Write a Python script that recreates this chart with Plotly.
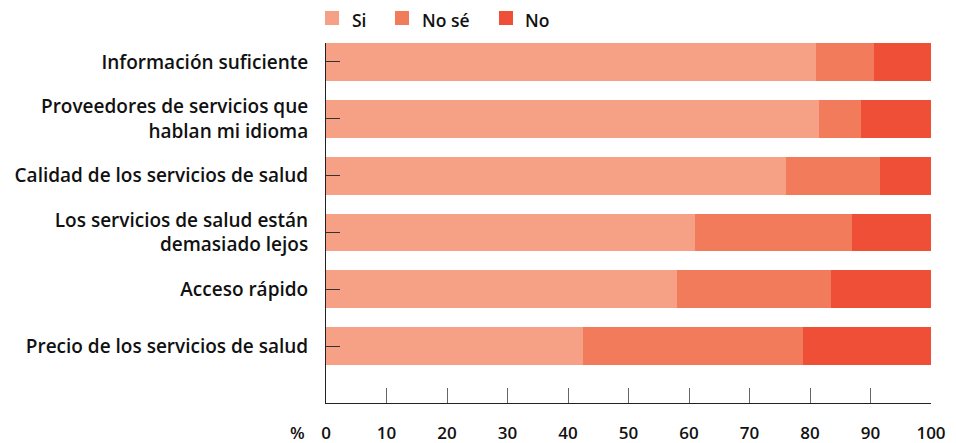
import plotly.graph_objects as go

categories = [
    "Información suficiente",
    "Proveedores de servicios que<br>hablan mi idioma",
    "Calidad de los servicios de salud",
    "Los servicios de salud están<br>demasiado lejos",
    "Acceso rápido",
    "Precio de los servicios de salud",
]
si = [81.0, 81.5, 76.0, 61.0, 58.0, 42.5]
no_se = [9.5, 7.0, 15.5, 26.0, 25.5, 36.3]
no = [9.5, 11.5, 8.5, 13.0, 16.5, 21.2]
series_names = ["Si", "No sé", "No"]
colors = ["#F6A185", "#F27B5C", "#F04F37"]
x_ticks = [0, 10, 20, 30, 40, 50, 60, 70, 80, 90, 100]

FONT = "Open Sans, Liberation Sans, Arial, sans-serif"
TXT = "#111111"
WT = 600

# figure geometry (page body adds an 8px offset)
W, H = 948, 435
ML, MR, MT, MB = 318, 25, 35, 40
PW, PH = W - ML - MR, H - MT - MB

fig = go.Figure()
for name, vals, col in zip(series_names, [si, no_se, no], colors):
    fig.add_trace(go.Bar(
        y=categories, x=vals, name=name, orientation="h",
        marker=dict(color=col, line=dict(width=0)),
        width=0.667, showlegend=False,
    ))

# manual legend (squares + labels) in pixel-derived paper coordinates
legend_sq_left_px = [317, 387, 491]
legend_txt_left_px = [343, 412.5, 516]
sq = 14
sq_cy_px = 10
txt_cy_px = 12.2
shapes = []
annotations = []
for name, col, sx, tx in zip(series_names, colors, legend_sq_left_px, legend_txt_left_px):
    x0 = (sx - ML) / PW
    x1 = (sx + sq - ML) / PW
    yc = 1 + (MT - sq_cy_px) / PH
    hh = (sq / 2) / PH
    shapes.append(dict(type="rect", xref="paper", yref="paper",
                       x0=x0, x1=x1, y0=yc - hh, y1=yc + hh,
                       fillcolor=col, line=dict(width=0), layer="above"))
    annotations.append(dict(text=name, xref="paper", yref="paper",
                            x=(tx - ML) / PW, y=1 + (MT - txt_cy_px) / PH,
                            xanchor="left", yanchor="middle",
                            showarrow=False, xshift=-1,
                            font=dict(family=FONT, size=17.5, color=TXT, weight=WT)))

annotations.append(dict(
    text="%", xref="paper", yref="paper", x=(289.5 - ML) / PW, y=-29 / PH,
    xanchor="center", yanchor="middle", showarrow=False,
    font=dict(family=FONT, size=17, color=TXT, weight=WT),
))

fig.update_layout(
    barmode="stack",
    width=W, height=H,
    margin=dict(l=ML, r=MR, t=MT, b=MB, autoexpand=False),
    paper_bgcolor="white", plot_bgcolor="white",
    font=dict(family=FONT, size=17, color=TXT, weight=WT),
    showlegend=False,
    xaxis=dict(
        range=[0, 100], tickvals=x_ticks, ticktext=[str(t) for t in x_ticks],
        showgrid=False, zeroline=False,
        showline=True, linecolor="#222222", linewidth=1,
        ticks="inside", ticklen=15, tickcolor="#666666", tickwidth=1,
        ticklabelstandoff=15,
        tickfont=dict(family=FONT, size=17, color=TXT, weight=WT),
        fixedrange=True,
    ),
    yaxis=dict(
        type="category", categoryorder="array", categoryarray=categories,
        range=[6, -0.333],
        showgrid=False, zeroline=False,
        showline=True, linecolor="#222222", linewidth=1,
        ticks="inside", ticklen=14, tickcolor="#333333", tickwidth=1,
        ticklabelstandoff=13,
        tickfont=dict(family=FONT, size=19, color=TXT, weight=WT),
        layer="above traces",
        fixedrange=True,
    ),
    shapes=shapes,
    annotations=annotations,
)

fig.write_html("out.html")
